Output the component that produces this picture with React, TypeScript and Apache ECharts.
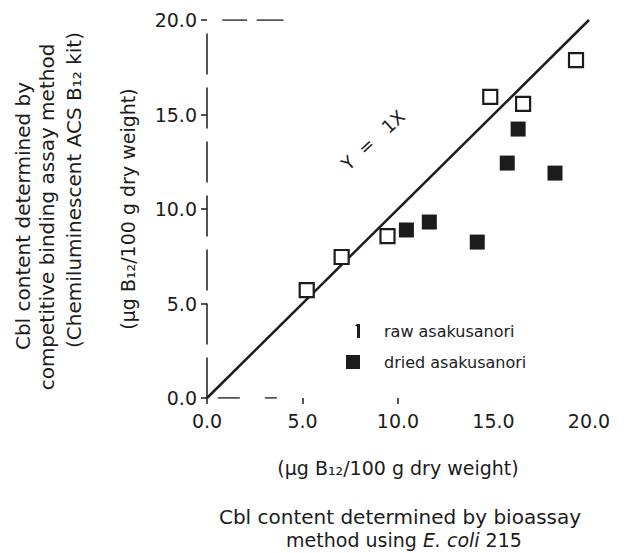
import React, { useEffect, useRef } from "react";
import * as echarts from "echarts";

// Data
const rawBioassay = [5.22, 7.05, 9.45, 14.83, 16.55, 19.32];
const rawCompetitive = [5.71, 7.46, 8.57, 15.93, 15.56, 17.88];
const driedBioassay = [10.44, 11.64, 14.15, 15.72, 16.29, 18.22];
const driedCompetitive = [8.89, 9.31, 8.25, 12.43, 14.23, 11.9];
const identityLine = [
  [0, 0],
  [20, 20],
];
const axisTicks = [0, 5, 10, 15, 20];
const xTickMarks = [0, 5, 10];
// short frame stubs seen in the scanned figure (data units)
const frameStubs = [
  [[0.8, 20], [2.1, 20]],
  [[2.6, 20], [4.0, 20]],
  [[0.57, 0], [1.72, 0]],
  [[3.03, 0], [3.66, 0]],
];

const FONT = "DejaVu Sans";
const INK = "#1c1c1c";

export default function App() {
  const ref = useRef<HTMLDivElement>(null);
  useEffect(() => {
    if (!ref.current) return;
    const chart = echarts.init(ref.current, undefined, { renderer: "svg" });
    const toPairs = (xs: number[], ys: number[]) => xs.map((x, i) => [x, ys[i]]);
    const option: any = {
      animation: false,
      backgroundColor: "#ffffff",
      textStyle: { fontFamily: FONT, color: INK },
      grid: { left: 207, right: 35, top: 20, bottom: 155 },
      xAxis: {
        type: "value",
        min: axisTicks[0],
        max: axisTicks[axisTicks.length - 1],
        interval: 5,
        splitLine: { show: false },
        axisLine: { show: false },
        axisTick: {
          show: true,
          length: 6,
          customValues: xTickMarks,
          lineStyle: { color: INK, width: 1.5 },
        },
        axisLabel: {
          margin: 13,
          fontSize: 19,
          fontFamily: FONT,
          color: INK,
          formatter: (v: number) => v.toFixed(1),
        },
        name: "(µg B₁₂/100 g dry weight)",
        nameLocation: "middle",
        nameGap: 60,
        nameTextStyle: { fontSize: 19, fontFamily: FONT, color: INK },
      },
      yAxis: {
        type: "value",
        min: axisTicks[0],
        max: axisTicks[axisTicks.length - 1],
        interval: 5,
        splitLine: { show: false },
        axisLine: {
          show: true,
          lineStyle: { color: INK, width: 1.5, type: [40, 14] },
        },
        axisTick: { show: true, length: 6, lineStyle: { color: INK, width: 1.5 } },
        axisLabel: {
          margin: 10,
          fontSize: 19,
          fontFamily: FONT,
          color: INK,
          formatter: (v: number) => v.toFixed(1),
        },
        name: "(µg B₁₂/100 g dry weight)",
        nameLocation: "middle",
        nameGap: 70,
        nameTextStyle: { fontSize: 19, fontFamily: FONT, color: INK },
      },
      legend: {
        orient: "vertical",
        left: 341,
        top: 318,
        itemWidth: 14,
        itemHeight: 14,
        itemGap: 15,
        textStyle: { fontSize: 16, fontFamily: FONT, color: INK, padding: [0, 0, 0, 19] },
        data: [
          {
            name: "raw asakusanori",
            icon: "path://M0,0L0.01,0L0.01,0.01Z M11,0h3v14h-3z M9,1.5L11,0L11,2.5Z",
            itemStyle: { color: INK, borderWidth: 0, opacity: 1 },
          },
          { name: "dried asakusanori", icon: "rect", itemStyle: { opacity: 1 } },
        ],
      },
      graphic: [
        {
          type: "text",
          x: 23,
          y: 216,
          rotation: Math.PI / 2,
          style: {
            text: "Cbl content determined by",
            font: `20px "${FONT}"`,
            fill: INK,
            align: "center",
            verticalAlign: "middle",
          },
        },
        {
          type: "text",
          x: 47,
          y: 217,
          rotation: Math.PI / 2,
          style: {
            text: "competitive binding assay method",
            font: `20px "${FONT}"`,
            fill: INK,
            align: "center",
            verticalAlign: "middle",
          },
        },
        {
          type: "text",
          x: 74,
          y: 190,
          rotation: Math.PI / 2,
          style: {
            text: "(Chemiluminescent ACS B₁₂ kit)",
            font: `20px "${FONT}"`,
            fill: INK,
            align: "center",
            verticalAlign: "middle",
          },
        },
        {
          type: "text",
          x: 400,
          y: 517,
          style: {
            text: "Cbl content determined by bioassay",
            font: `20px "${FONT}"`,
            fill: INK,
            align: "center",
            verticalAlign: "middle",
          },
        },
        {
          type: "text",
          x: 404,
          y: 540,
          style: {
            text: "{n|method using }{i|E. coli}{n| 215}",
            align: "center",
            verticalAlign: "middle",
            rich: {
              n: { font: `19px "${FONT}"`, fill: INK, lineHeight: 20 },
              i: { font: `italic 19px "${FONT}"`, fill: INK, lineHeight: 20 },
            },
          },
        },
        {
          type: "text",
          x: 373,
          y: 140,
          rotation: 0.74,
          style: {
            text: "Y  =   1X",
            font: `18px "${FONT}"`,
            fill: INK,
            align: "center",
            verticalAlign: "middle",
          },
        },
      ],
      series: [
        {
          name: "Y = 1X",
          type: "line",
          data: identityLine,
          symbol: "none",
          lineStyle: { color: INK, width: 2.5 },
          z: 2,
        },
        {
          name: "frame",
          type: "lines",
          coordinateSystem: "cartesian2d",
          data: frameStubs.map((c) => ({ coords: c })),
          lineStyle: { color: INK, width: 1.5, opacity: 1 },
          silent: true,
          z: 1,
        },
        {
          name: "raw asakusanori",
          type: "scatter",
          data: toPairs(rawBioassay, rawCompetitive),
          symbol: "rect",
          symbolSize: 14,
          itemStyle: { color: "#ffffff", borderColor: INK, borderWidth: 2.2, opacity: 1 },
          z: 3,
        },
        {
          name: "dried asakusanori",
          type: "scatter",
          data: toPairs(driedBioassay, driedCompetitive),
          symbol: "rect",
          symbolSize: 15,
          itemStyle: { color: INK, opacity: 1 },
          z: 3,
        },
      ],
    };
    chart.setOption(option);
    return () => chart.dispose();
  }, []);
  return (
    <div
      ref={ref}
      style={{ position: "fixed", left: 0, top: 0, width: 624, height: 553 }}
    />
  );
}
